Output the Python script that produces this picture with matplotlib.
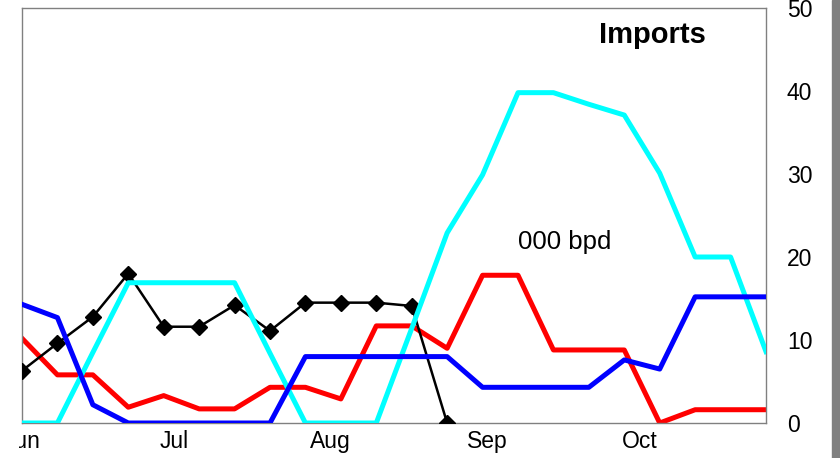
#!/usr/bin/env python3

import pandas as pd
import matplotlib
matplotlib.use('Agg')
import matplotlib.pyplot as plt
from matplotlib.transforms import Bbox

plt.rcParams['font.family'] = ['Liberation Sans', 'DejaVu Sans']

# weekly points, starting at the beginning of June
weeks = pd.date_range('2000-06-01', periods=22, freq='7D')

black = [6.3, 9.6, 12.8, 18.0, 11.6, 11.6, 14.2, 11.1, 14.5, 14.5, 14.5, 14.1, 0.0]
red = [10.2, 5.8, 5.8, 1.9, 3.3, 1.7, 1.7, 4.3, 4.3, 2.9, 11.7, 11.7, 9.0,
       17.8, 17.8, 8.8, 8.8, 8.8, 0.0, 1.6, 1.6, 1.6]
blue = [14.3, 12.7, 2.2, 0.0, 0.0, 0.0, 0.0, 0.0, 8.0, 8.0, 8.0, 8.0, 8.0,
        4.3, 4.3, 4.3, 4.3, 7.6, 6.5, 15.2, 15.2, 15.2]
cyan = [0.0, 0.0, 8.5, 16.9, 16.9, 16.9, 16.9, 8.4, 0.0, 0.0, 0.0, 11.4, 22.9,
        29.9, 39.8, 39.8, 38.4, 37.1, 30.1, 20.0, 20.0, 8.6]

month_ticks = pd.date_range('2000-06-01', periods=5, freq='MS')
month_labels = ['Jun', 'Jul', 'Aug', 'Sep', 'Oct']
y_ticks = [0, 10, 20, 30, 40, 50]

fig = plt.figure(figsize=(8.4, 4.58), dpi=100)
ax = fig.add_axes([22 / 840, 35 / 458, 744 / 840, 415 / 458])

ax.plot(weeks, red, color='#ff0000', lw=3.6, zorder=2)
ax.plot(weeks[:len(black)], black, color='black', lw=1.8, marker='D',
        ms=8.5, zorder=3)
ax.plot(weeks, cyan, color='#00ffff', lw=3.6, zorder=4)
ax.plot(weeks, blue, color='#0000ff', lw=3.6, zorder=5)

ax.set_xlim(weeks[0], weeks[-1])
ax.set_ylim(0, 50)
ax.set_xticks(month_ticks)
ax.set_xticklabels(month_labels)
ax.set_yticks(y_ticks)
ax.yaxis.tick_right()
ax.tick_params(axis='both', length=0, labelsize=16.5)
ax.tick_params(axis='y', pad=15)
ax.tick_params(axis='x', pad=5)
for s in ax.spines.values():
    s.set_color('#808080')
    s.set_linewidth(1.0)

ax.text(0.848, 0.935, 'Imports', transform=ax.transAxes, ha='center',
        va='center', fontsize=21, fontweight='bold')
ax.text(0.73, 0.435, '000 bpd', transform=ax.transAxes, ha='center',
        va='center', fontsize=18.5)

# gray strip at the right edge
fig.patches.append(plt.Rectangle((832 / 840, 0), 8 / 840, 1,
                                 transform=fig.transFigure,
                                 color='#808080', zorder=0))

fig.canvas.draw()
clip = Bbox([[19, 0], [840, 458]])
for lab in ax.get_xticklabels():
    lab.set_clip_box(clip)
    lab.set_clip_on(True)

fig.savefig('out.png', dpi=100)
